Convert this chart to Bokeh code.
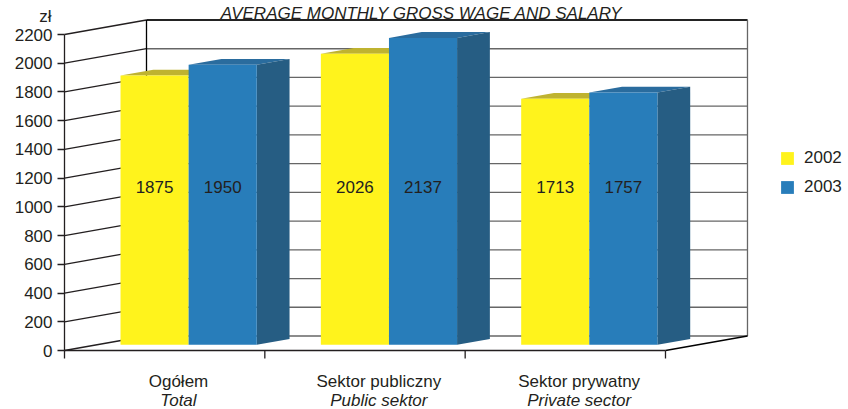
from bokeh.plotting import figure
from bokeh.models import (Range1d, LinearAxis, FixedTicker, Legend, LegendItem)
from bokeh.core.properties import value
from bokeh.embed import file_html
from bokeh.resources import INLINE

# ---------------- data ----------------
title_text = "AVERAGE  MONTHLY  GROSS  WAGE  AND  SALARY"
unit_label = "zł"
categories_pl = ["Ogółem", "Sektor publiczny", "Sektor prywatny"]
categories_en = ["Total", "Public sektor", "Private sector"]
years = ["2002", "2003"]
wages_2002 = [1875, 2026, 1713]
wages_2003 = [1950, 2137, 1757]
y_ticks = [0, 200, 400, 600, 800, 1000, 1200, 1400, 1600, 1800, 2000, 2200]

# ---------------- layout / style ----------------
W, H = 848, 409
X0_PX, UNIT_PX = 64, 200.33          # x data unit -> pixels
Y0_PX, VAL_PX = 350, 316 / 2200       # value unit -> pixels
x_start, x_end = -X0_PX / UNIT_PX, (W - X0_PX) / UNIT_PX
y_start, y_end = -(H - Y0_PX) / VAL_PX, Y0_PX / VAL_PX

DXU = 82 / UNIT_PX     # full depth, x units
DVU = 14.5 / VAL_PX    # full depth, value units
Z0, Z1 = 0.39, 0.79    # bar depth span
BAR_OFF, BAR_W = 0.12, 0.34
LABEL_V = 1100
VMAX = y_ticks[-1]
NCAT = len(categories_pl)
TICK_OUT_V = 8 / VAL_PX

FONT = "Liberation Sans"
TXT = "#231f20"
GRID = "#666666"
YEL, YEL_TOP = "#fff31c", "#bfb330"
BLU, BLU_TOP, BLU_SIDE = "#287dba", "#2a6c9e", "#265d83"


def px_x(x, z):
    return x + z * DXU


def px_v(v, z):
    return v + z * DVU


p = figure(width=W, height=H, x_range=Range1d(x_start, x_end),
           y_range=Range1d(y_start, y_end), output_backend="svg",
           toolbar_location=None, x_axis_type=None, y_axis_type=None,
           min_border=0, min_border_left=0, min_border_right=0,
           min_border_top=0, min_border_bottom=0)
p.outline_line_color = None
p.background_fill_color = "white"
p.border_fill_color = "white"

# ---- walls ----
bx0 = [px_x(0, 1)] * len(y_ticks)
bx1 = [px_x(NCAT, 1)] * len(y_ticks)
by = [px_v(v, 1) for v in y_ticks]
# back wall horizontal lines
p.segment(x0=bx0, y0=by, x1=bx1, y1=by, line_color=GRID, line_width=1.3)
# back wall top edge
p.segment(x0=[px_x(0, 1)], y0=[px_v(VMAX, 1)], x1=[px_x(NCAT, 1)], y1=[px_v(VMAX, 1)],
          line_color="black", line_width=1.3)
# left wall lines
p.segment(x0=[0] * len(y_ticks), y0=list(y_ticks), x1=bx0, y1=by,
          line_color=TXT, line_width=1.3)
# back wall vertical edges
p.segment(x0=[px_x(0, 1)], y0=[px_v(0, 1)], x1=[px_x(0, 1)], y1=[px_v(VMAX, 1)],
          line_color="black", line_width=1.3)
p.segment(x0=[px_x(NCAT, 1)], y0=[px_v(0, 1)], x1=[px_x(NCAT, 1)], y1=[px_v(VMAX, 1)],
          line_color=GRID, line_width=1.3)
# floor right edge
p.segment(x0=[NCAT], y0=[0], x1=[px_x(NCAT, 1)], y1=[px_v(0, 1)],
          line_color="black", line_width=1.3)
# floor front edge (category axis) with boundary ticks
p.segment(x0=[0], y0=[0], x1=[NCAT], y1=[0], line_color=TXT, line_width=1.4)
bounds_x = list(range(NCAT + 1))
p.segment(x0=bounds_x, y0=[0] * len(bounds_x), x1=bounds_x,
          y1=[-TICK_OUT_V] * len(bounds_x), line_color=TXT, line_width=1.3)

# ---- bars ----
cat_idx = list(range(NCAT))
y_left = [i + BAR_OFF for i in cat_idx]
b_left = [i + BAR_OFF + BAR_W for i in cat_idx]
b_right = [i + BAR_OFF + 2 * BAR_W for i in cat_idx]


def top_poly(l, r, v):
    xs = [px_x(l, Z0), px_x(r, Z0), px_x(r, Z1), px_x(l, Z1)]
    ys = [px_v(v, Z0), px_v(v, Z0), px_v(v, Z1), px_v(v, Z1)]
    return xs, ys


def side_poly(r, v):
    xs = [px_x(r, Z0), px_x(r, Z0), px_x(r, Z1), px_x(r, Z1)]
    ys = [px_v(0, Z0), px_v(v, Z0), px_v(v, Z1), px_v(0, Z1)]
    return xs, ys


yt = [top_poly(l, r, v) for l, r, v in zip(y_left, b_left, wages_2002)]
bt = [top_poly(l, r, v) for l, r, v in zip(b_left, b_right, wages_2003)]
bs = [side_poly(r, v) for r, v in zip(b_right, wages_2003)]

p.patches(xs=[t[0] for t in yt], ys=[t[1] for t in yt], fill_color=YEL_TOP, line_color=None)
p.patches(xs=[t[0] for t in bt], ys=[t[1] for t in bt], fill_color=BLU_TOP, line_color=None)
p.patches(xs=[t[0] for t in bs], ys=[t[1] for t in bs], fill_color=BLU_SIDE, line_color=None)

r_y = p.quad(left=[px_x(l, Z0) for l in y_left], right=[px_x(r, Z0) for r in b_left],
             bottom=[px_v(0, Z0)] * NCAT, top=[px_v(v, Z0) for v in wages_2002],
             fill_color=YEL, line_color=None)
r_b = p.quad(left=[px_x(l, Z0) for l in b_left], right=[px_x(r, Z0) for r in b_right],
             bottom=[px_v(0, Z0)] * NCAT, top=[px_v(v, Z0) for v in wages_2003],
             fill_color=BLU, line_color=None)

# value labels
lab_x = ([px_x((l + r) / 2, Z0) for l, r in zip(y_left, b_left)] +
         [px_x((l + r) / 2, Z0) for l, r in zip(b_left, b_right)])
lab_t = [str(v) for v in wages_2002] + [str(v) for v in wages_2003]
p.text(x=lab_x, y=[px_v(LABEL_V, Z0)] * len(lab_x), text=lab_t,
       text_font=value(FONT), text_font_size="17px", text_color=TXT,
       text_align="center", text_baseline="middle")

# ---- value axis ----
yaxis = LinearAxis(ticker=FixedTicker(ticks=y_ticks), fixed_location=0, bounds=(0, VMAX))
yaxis.axis_line_color = TXT
yaxis.axis_line_width = 1.3
yaxis.major_tick_line_color = TXT
yaxis.major_tick_line_width = 1.3
yaxis.major_tick_out = 7
yaxis.major_tick_in = 0
yaxis.minor_tick_line_color = None
yaxis.major_label_text_font = FONT
yaxis.major_label_text_font_size = "17px"
yaxis.major_label_text_color = TXT
yaxis.major_label_standoff = 5
p.add_layout(yaxis, "left")

# unit label
p.text(x=[-13 / UNIT_PX], y=[(Y0_PX - 16) / VAL_PX], text=[unit_label],
       text_font=value(FONT), text_font_size="17px", text_color=TXT,
       text_align="right", text_baseline="middle")

# category labels
cat_x = [i + 0.569 for i in cat_idx]
p.text(x=cat_x, y=[(Y0_PX - 381) / VAL_PX] * NCAT, text=categories_pl,
       text_font=value(FONT), text_font_size="17px", text_color=TXT,
       text_align="center", text_baseline="middle")
p.text(x=cat_x, y=[(Y0_PX - 400) / VAL_PX] * NCAT, text=categories_en,
       text_font=value(FONT), text_font_size="17px", text_font_style="italic",
       text_color=TXT, text_align="center", text_baseline="middle")

# title
p.text(x=[(433 - X0_PX) / UNIT_PX], y=[(Y0_PX - 13) / VAL_PX], text=[title_text],
       text_font=value(FONT), text_font_size="17px", text_font_style="italic",
       text_color=TXT, text_align="center", text_baseline="alphabetic")

# legend
legend = Legend(items=[LegendItem(label=years[0], renderers=[r_y]),
                       LegendItem(label=years[1], renderers=[r_b])],
                location=(779, 212), orientation="vertical")
legend.padding = 0
legend.margin = 0
legend.spacing = 9
legend.glyph_width = 16
legend.glyph_height = 16
legend.label_height = 16
legend.label_standoff = 9
legend.label_text_font = FONT
legend.label_text_font_size = "17px"
legend.label_text_color = TXT
legend.border_line_color = None
legend.background_fill_alpha = 0
p.add_layout(legend, "center")

open("out.html", "w").write(file_html(p, INLINE))
